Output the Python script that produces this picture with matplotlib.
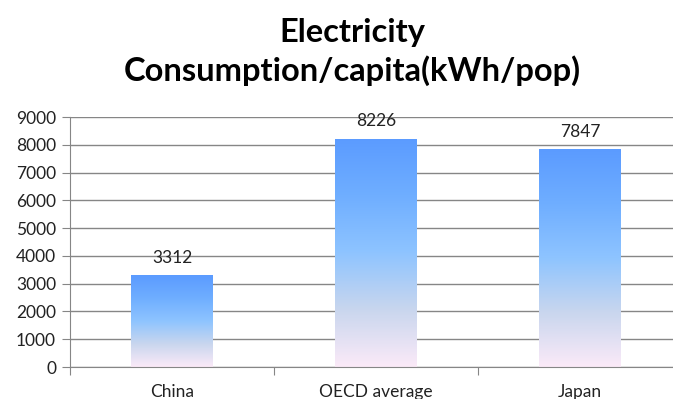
import numpy as np
import matplotlib.pyplot as plt
from matplotlib.colors import LinearSegmentedColormap

categories = ["China", "OECD average", "Japan"]
values = [3312, 8226, 7847]
y_ticks = [0, 1000, 2000, 3000, 4000, 5000, 6000, 7000, 8000, 9000]

plt.rcParams["font.family"] = ["Lato", "DejaVu Sans"]

fig = plt.figure(figsize=(6.73, 3.99), dpi=100)
ax = fig.add_axes([70 / 673, 1 - 367 / 399, 612 / 673, 250 / 399])

grad = LinearSegmentedColormap.from_list(
    "bar", ["#FBEAF8", "#C9D6EE", "#8EC4FF", "#6FAEFF", "#5B9BFF"]
)
grad_img = np.linspace(0, 1, 256).reshape(-1, 1)

width = 0.4
x = np.arange(len(categories))
bars = ax.bar(x, values, width, color="none", edgecolor="none", zorder=2)
for b, v in zip(bars, values):
    x0 = b.get_x()
    im = ax.imshow(grad_img, cmap=grad, origin="lower", aspect="auto",
                   extent=[x0, x0 + width, 0, v], zorder=2)
    im.set_clip_path(b)
    ax.text(b.get_x() + width / 2, v + 330, f"{v}", ha="center", va="bottom",
            fontsize=12.5, color="#222222")

ax.set_xlim(-0.5, 2.5)
ax.set_ylim(0, 9000)
ax.set_yticks(y_ticks)
ax.set_yticklabels([str(t) for t in y_ticks], fontsize=12.5, color="#222222")
ax.set_xticks([-0.5, 0.5, 1.5, 2.5])
ax.set_xticklabels([])
ax.set_xticks(x, minor=True)
ax.set_xticklabels(categories, minor=True, fontsize=12.5, color="#222222")
ax.tick_params(axis="x", which="minor", length=0, pad=12)
ax.tick_params(axis="x", which="major", length=6, color="#868686", direction="out")
ax.tick_params(axis="y", length=6, color="#868686", pad=4)

ax.yaxis.grid(True, color="#868686", linewidth=1)
ax.set_axisbelow(True)
for s in ["top", "right"]:
    ax.spines[s].set_visible(False)
for s in ["left", "bottom"]:
    ax.spines[s].set_color("#868686")

fig.text(352 / 673, 1 - 52 / 399, "Electricity\nConsumption/capita(kWh/pop)",
         ha="center", va="center", fontsize=23.5, fontweight="bold",
         linespacing=1.3, color="#000000")

fig.savefig("out.png", dpi=100)
